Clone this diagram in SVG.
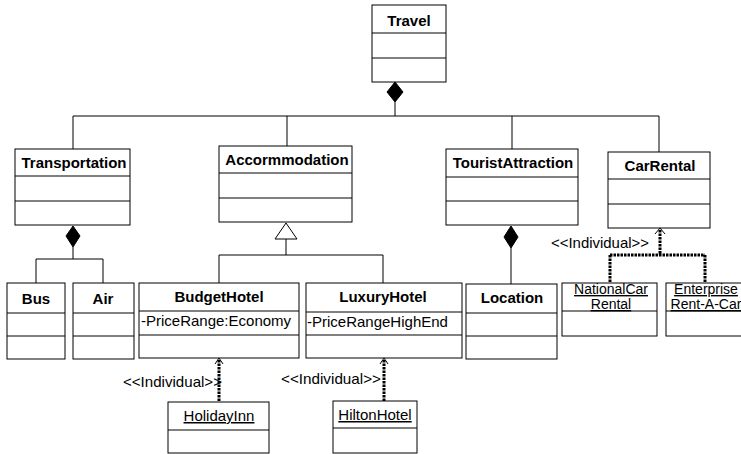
<svg xmlns="http://www.w3.org/2000/svg" width="741" height="454" viewBox="0 0 741 454">
  <style>
    .box { fill: #fff; stroke: #000; stroke-width: 1; }
    .div { stroke: #000; stroke-width: 1; }
    .title { font-family: "Liberation Sans", Arial, sans-serif; font-size: 15px; font-weight: bold; fill: #000; text-anchor: middle; }
    .attr { font-family: "Liberation Sans", Arial, sans-serif; font-size: 15px; fill: #000; }
    .inst { font-family: "Liberation Sans", Arial, sans-serif; font-size: 15px; fill: #000; text-decoration: underline; text-anchor: middle; }
    .inst2 { font-family: "Liberation Sans", Arial, sans-serif; font-size: 14px; fill: #000; text-decoration: underline; text-anchor: middle; }
    .stereo { font-family: "Liberation Sans", Arial, sans-serif; font-size: 15px; fill: #000; }
    .line { fill: none; stroke: #000; stroke-width: 1; }
    .dep { fill: none; stroke: #000; stroke-width: 3; stroke-dasharray: 2.5 1; }
    .diamond { fill: #000; stroke: #000; stroke-width: 1; }
    .tri { fill: #fff; stroke: #000; stroke-width: 1; }
    .arrow { fill: none; stroke: #000; stroke-width: 1; }
  </style>

  <!-- connectors -->
  <g id="connectors">
    <!-- Travel composition -->
    <path class="line" d="M395,102 V116 M73,116 H659 M73,116 V149 M287,116 V146 M512,116 V149 M659,116 V152"/>
    <polygon class="diamond" points="395,82 403,92 395,102 387,92"/>
    <!-- Transportation composition -->
    <polygon class="diamond" points="73,226 80,236 73,247 66,236"/>
    <path class="line" d="M73,247 V259 M36,259 H103 M36,259 V283 M103,259 V283"/>
    <!-- Accommodation generalization -->
    <polygon class="tri" points="286,223 297,239 275,239"/>
    <path class="line" d="M286,239 V255 M219,255 H383 M219,255 V283 M383,255 V283"/>
    <!-- TouristAttraction composition -->
    <polygon class="diamond" points="511,226 518,237 511,248 504,237"/>
    <path class="line" d="M511,248 V284"/>
    <!-- CarRental instances -->
    <path class="dep" d="M660,230 V255 M610,255 H705 M610,255 V283 M705,255 V283"/>
    <path class="arrow" d="M655,234 L660,228 L665,234"/>
    <!-- BudgetHotel instance -->
    <path class="dep" d="M219,360 V402"/>
    <path class="arrow" d="M215,364 L219,358 L223,364"/>
    <!-- LuxuryHotel instance -->
    <path class="dep" d="M384,360 V401"/>
    <path class="arrow" d="M380,364 L384,358 L388,364"/>
  </g>

  <g id="travel">
    <rect class="box" x="372" y="5" width="74" height="77"/>
    <path class="div" d="M372,33 H446 M372,58 H446"/>
    <text class="title" x="409" y="26">Travel</text>
  </g>

  <g id="transportation">
    <rect class="box" x="15" y="149" width="115" height="76"/>
    <path class="div" d="M15,176 H130 M15,201 H130"/>
    <text class="title" x="74" y="168">Transportation</text>
  </g>

  <g id="accommodation">
    <rect class="box" x="219" y="146" width="133" height="76"/>
    <path class="div" d="M219,173 H352 M219,198 H352"/>
    <text class="title" x="287" y="165">Accormmodation</text>
  </g>

  <g id="tourist-attraction">
    <rect class="box" x="446" y="149" width="132" height="76"/>
    <path class="div" d="M446,177 H578 M446,201 H578"/>
    <text class="title" x="513" y="168">TouristAttraction</text>
  </g>

  <g id="car-rental">
    <rect class="box" x="608" y="152" width="102" height="76"/>
    <path class="div" d="M608,179 H710 M608,204 H710"/>
    <text class="title" x="660" y="171">CarRental</text>
  </g>

  <g id="bus">
    <rect class="box" x="7" y="283" width="58" height="76"/>
    <path class="div" d="M7,313 H65 M7,336 H65"/>
    <text class="title" x="36" y="304">Bus</text>
  </g>

  <g id="air">
    <rect class="box" x="73" y="283" width="61" height="76"/>
    <path class="div" d="M73,313 H134 M73,336 H134"/>
    <text class="title" x="103" y="304">Air</text>
  </g>

  <g id="budget-hotel">
    <rect class="box" x="139" y="283" width="160" height="75"/>
    <path class="div" d="M139,311 H299 M139,335 H299"/>
    <text class="title" x="219" y="302">BudgetHotel</text>
    <text class="attr" x="141" y="326">-PriceRange:Economy</text>
  </g>

  <g id="luxury-hotel">
    <rect class="box" x="306" y="283" width="156" height="75"/>
    <path class="div" d="M306,312 H462 M306,335 H462"/>
    <text class="title" x="383" y="302">LuxuryHotel</text>
    <text class="attr" x="307" y="327">-PriceRangeHighEnd</text>
  </g>

  <g id="location">
    <rect class="box" x="466" y="284" width="91" height="75"/>
    <path class="div" d="M466,313 H557 M466,336 H557"/>
    <text class="title" x="512" y="303">Location</text>
  </g>

  <g id="national-car-rental">
    <rect class="box" x="562" y="283" width="95" height="53"/>
    <path class="div" d="M562,311 H657"/>
    <text class="inst2" x="611" y="294">NationalCar</text>
    <text class="inst2" x="611" y="309">Rental</text>
  </g>

  <g id="enterprise">
    <rect class="box" x="666" y="283" width="80" height="53"/>
    <path class="div" d="M666,311 H746"/>
    <text class="inst2" x="706" y="294">Enterprise</text>
    <text class="inst2" x="706" y="309">Rent-A-Car</text>
  </g>

  <g id="holiday-inn">
    <rect class="box" x="168" y="402" width="101" height="51"/>
    <path class="div" d="M168,430 H269"/>
    <text class="inst" x="219" y="421">HolidayInn</text>
  </g>

  <g id="hilton-hotel">
    <rect class="box" x="333" y="401" width="84" height="52"/>
    <path class="div" d="M333,428 H417"/>
    <text class="inst" x="375" y="420">HiltonHotel</text>
  </g>

  <!-- stereotype labels -->
  <g id="labels">
    <text class="stereo" x="551" y="248" textLength="98" lengthAdjust="spacingAndGlyphs">&lt;&lt;Individual&gt;&gt;</text>
    <text class="stereo" x="123" y="387" textLength="99" lengthAdjust="spacingAndGlyphs">&lt;&lt;Individual&gt;&gt;</text>
    <text class="stereo" x="281" y="384" textLength="100" lengthAdjust="spacingAndGlyphs">&lt;&lt;Individual&gt;&gt;</text>
  </g>
</svg>
